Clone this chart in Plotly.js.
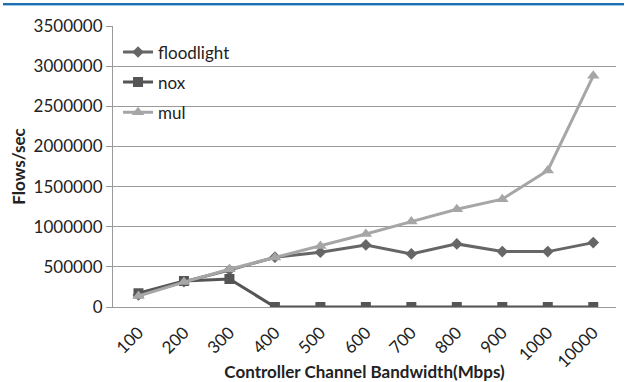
<!DOCTYPE html>
<html>
<head>
<meta charset="utf-8">
<script src="https://cdn.plot.ly/plotly-3.0.1.min.js"></script>
<style>
html,body{margin:0;padding:0;background:#fff;}
#topbar{position:absolute;left:3px;top:3px;width:621px;height:2px;background:#1f6fb0;border-bottom:1px solid #9cc7e6;}
#chart{position:absolute;left:0;top:0;width:627px;height:382px;}
</style>
</head>
<body>
<div id="chart"></div>
<div id="topbar"></div>
<script>
const categories = ['100','200','300','400','500','600','700','800','900','1000','10000'];
const floodlight = [150000, 315000, 460000, 620000, 682000, 773000, 661000, 786000, 690000, 690000, 802000];
const nox = [171000, 324000, 349000, 0, 0, 0, 0, 0, 0, 0, 0];
const mul = [137000, 310000, 470000, 615000, 760000, 910000, 1064000, 1218000, 1343000, 1700000, 2880000];
const yTicks = [0, 500000, 1000000, 1500000, 2000000, 2500000, 3000000, 3500000];

const font = 'Lato, "Open Sans", "Liberation Sans", sans-serif';

const traces = [
  {name:'floodlight', legendgroup:'a', x:categories, y:floodlight, type:'scatter', mode:'lines+markers',
   line:{color:'#666666', width:3}, marker:{symbol:'diamond', size:9, color:'#666666'}},
  {name:'nox', legendgroup:'b', x:categories, y:nox, type:'scatter', mode:'lines+markers',
   line:{color:'#555555', width:3}, marker:{symbol:'square', size:10, color:'#555555'}},
  {name:'mul', legendgroup:'c', x:categories, y:mul, type:'scatter', mode:'lines+markers',
   line:{color:'#a6a6a6', width:3}, marker:{symbol:'triangle-up', size:11, color:'#a6a6a6'}}
];

const layout = {
  width:627, height:382,
  margin:{l:113, r:11, t:26, b:75},
  paper_bgcolor:'#ffffff', plot_bgcolor:'#ffffff',
  font:{family:font, size:17, color:'#222'},
  showlegend:true,
  legend:{x:0.01, y:0.97, xanchor:'left', yanchor:'top', bgcolor:'rgba(0,0,0,0)',
          font:{family:font, size:17, color:'#222'}, traceorder:'grouped', tracegroupgap:5, itemwidth:30},
  xaxis:{type:'category', categoryorder:'array', categoryarray:categories,
         range:[-0.56, 10.5], tickangle:-45, showgrid:false, showline:true,
         linecolor:'#999', linewidth:1, ticks:'', ticklabelstandoff:8,
         tickfont:{family:font, size:17, color:'#222'},
         title:{text:'Controller Channel Bandwidth(Mbps)', font:{family:font, size:17, color:'#222', weight:'bold'}, standoff:0},
         zeroline:false},
  yaxis:{range:[0, 3500000], tickvals:yTicks, ticktext:yTicks.map(String),
         showgrid:true, gridcolor:'#9a9a9a', gridwidth:1, showline:true, linecolor:'#999',
         ticks:'outside', ticklen:6, tickcolor:'#999', tickfont:{family:font, size:17, color:'#222'},
         title:{text:'Flows/sec', font:{family:font, size:17, color:'#222', weight:'bold'}, standoff:3},
         zeroline:false}
};

Plotly.newPlot('chart', traces, layout, {displayModeBar:false, staticPlot:true});
</script>
</body>
</html>
